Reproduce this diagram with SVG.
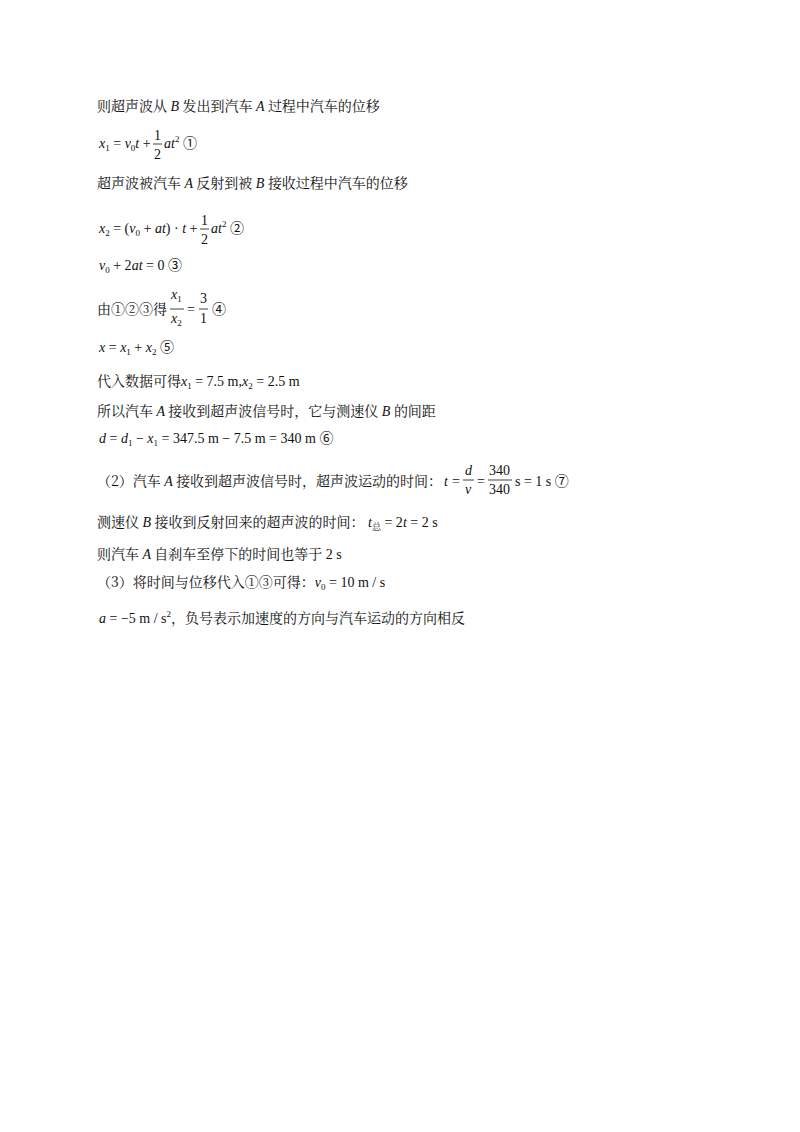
<svg xmlns="http://www.w3.org/2000/svg" width="800" height="1132" viewBox="0 0 800 1132">
<style>
text{font-family:"Liberation Serif","Noto Sans CJK SC",serif;font-size:14px;fill:#111}
.c{font-family:"Noto Serif CJK SC","Noto Sans CJK SC",serif}
.i{font-style:italic}
.s{font-size:9px}
.n{font-size:14px}
</style>
<rect width="800" height="1132" fill="#fff"/>
<g id="text">
<text x="97" y="111"><tspan class="c">则超声波从</tspan><tspan class="i"> B </tspan><tspan class="c">发出到汽车</tspan><tspan class="i"> A </tspan><tspan class="c">过程中汽车的位移</tspan></text>
<text x="99" y="148"><tspan class="i">x</tspan><tspan class="s" dy="3">1</tspan><tspan dy="-3"> = </tspan><tspan class="i">v</tspan><tspan class="s" dy="3">0</tspan><tspan class="i" dy="-3">t</tspan><tspan> + </tspan></text>
<text x="154" y="140">1</text><line x1="153" y1="144" x2="162" y2="144" stroke="#111" stroke-width="0.8"/><text x="154" y="159">2</text>
<text x="164" y="148"><tspan class="i">at</tspan><tspan class="s" dy="-6">2</tspan><tspan dy="6"> ①</tspan></text>
<text x="97" y="188" class="c">超声波被汽车<tspan class="i" font-family="Liberation Serif"> A </tspan>反射到被<tspan class="i" font-family="Liberation Serif"> B </tspan>接收过程中汽车的位移</text>
<text x="99" y="233"><tspan class="i">x</tspan><tspan class="s" dy="3">2</tspan><tspan dy="-3"> = (</tspan><tspan class="i">v</tspan><tspan class="s" dy="3">0</tspan><tspan dy="-3"> + </tspan><tspan class="i">at</tspan><tspan>) · </tspan><tspan class="i">t</tspan><tspan> + </tspan></text>
<text x="201" y="225">1</text><line x1="200" y1="229" x2="209" y2="229" stroke="#111" stroke-width="0.8"/><text x="201" y="244">2</text>
<text x="211" y="233"><tspan class="i">at</tspan><tspan class="s" dy="-6">2</tspan><tspan dy="6"> ②</tspan></text>
<text x="99" y="270"><tspan class="i">v</tspan><tspan class="s" dy="3">0</tspan><tspan dy="-3"> + 2</tspan><tspan class="i">at</tspan><tspan> = 0 ③</tspan></text>
<text x="97" y="314"><tspan class="c">由①②③得</tspan></text>
<text x="171" y="299" class="i">x<tspan class="s" dy="3" font-style="normal">1</tspan></text>
<line x1="170" y1="309" x2="184" y2="309" stroke="#111" stroke-width="0.8"/>
<text x="171" y="323" class="i">x<tspan class="s" dy="3" font-style="normal">2</tspan></text>
<text x="187" y="314">=</text>
<text x="200" y="303">3</text><line x1="199" y1="309" x2="208" y2="309" stroke="#111" stroke-width="0.8"/><text x="200" y="323">1</text>
<text x="212" y="314">④</text>
<text x="99" y="352"><tspan class="i">x</tspan><tspan> = </tspan><tspan class="i">x</tspan><tspan class="s" dy="3">1</tspan><tspan dy="-3"> + </tspan><tspan class="i">x</tspan><tspan class="s" dy="3">2</tspan><tspan dy="-3"> ⑤</tspan></text>
<text x="97" y="386"><tspan class="c">代入数据可得</tspan><tspan class="i">x</tspan><tspan class="s" dy="3">1</tspan><tspan dy="-3"> = 7.5 m,</tspan><tspan class="i">x</tspan><tspan class="s" dy="3">2</tspan><tspan dy="-3"> = 2.5 m</tspan></text>
<text x="97" y="416" class="c">所以汽车<tspan class="i" font-family="Liberation Serif"> A </tspan>接收到超声波信号时，它与测速仪<tspan class="i" font-family="Liberation Serif"> B </tspan>的间距</text>
<text x="99" y="443"><tspan class="i">d</tspan><tspan> = </tspan><tspan class="i">d</tspan><tspan class="s" dy="3">1</tspan><tspan dy="-3"> − </tspan><tspan class="i">x</tspan><tspan class="s" dy="3">1</tspan><tspan dy="-3"> = 347.5 m − 7.5 m = 340 m ⑥</tspan></text>
<text x="97" y="486" class="c">（2）汽车<tspan class="i" font-family="Liberation Serif"> A </tspan>接收到超声波信号时，超声波运动的时间：</text>
<text x="444" y="486" class="i">t</text><text x="452" y="486">=</text>
<text x="465" y="475" class="i">d</text><line x1="463" y1="480" x2="474" y2="480" stroke="#111" stroke-width="0.8"/><text x="465" y="494" class="i">v</text>
<text x="477" y="486">=</text>
<text x="489" y="475">340</text><line x1="488" y1="480" x2="512" y2="480" stroke="#111" stroke-width="0.8"/><text x="489" y="494">340</text>
<text x="515" y="486">s = 1 s ⑦</text>
<text x="97" y="527"><tspan class="c">测速仪</tspan><tspan class="i"> B </tspan><tspan class="c">接收到反射回来的超声波的时间：</tspan><tspan class="i"> t</tspan><tspan class="s c" dy="3">总</tspan><tspan dy="-3"> = 2</tspan><tspan class="i">t</tspan><tspan> = 2 s</tspan></text>
<text x="97" y="559"><tspan class="c">则汽车</tspan><tspan class="i"> A </tspan><tspan class="c">自刹车至停下的时间也等于</tspan><tspan> 2 s</tspan></text>
<text x="97" y="587"><tspan class="c">（3）将时间与位移代入①③可得：</tspan><tspan class="i">v</tspan><tspan class="s" dy="3">0</tspan><tspan dy="-3"> = 10 m / s</tspan></text>
<text x="99" y="623"><tspan class="i">a</tspan><tspan> = −5 m / s</tspan><tspan class="s" dy="-6">2</tspan><tspan class="c" dy="6">，负号表示加速度的方向与汽车运动的方向相反</tspan></text>
</g>
</svg>
